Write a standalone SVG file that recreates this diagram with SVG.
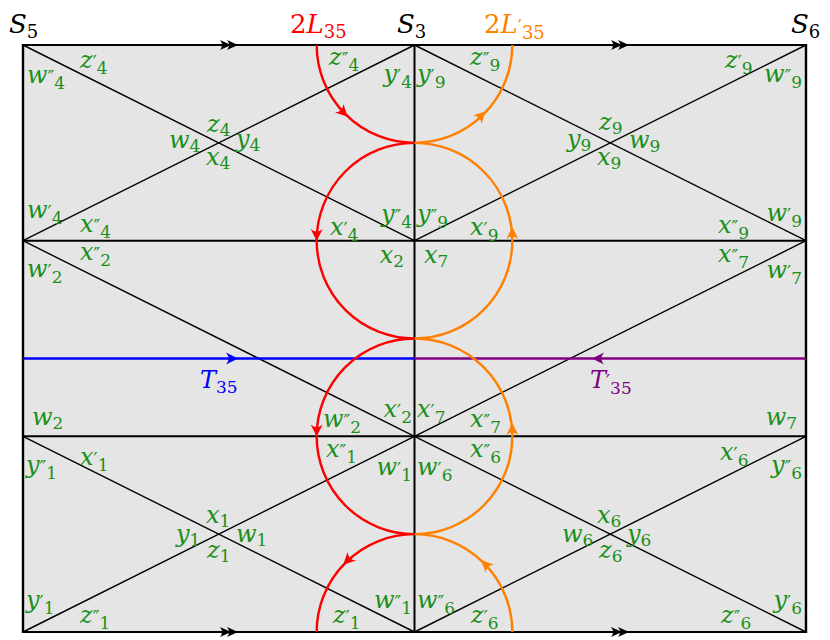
<svg xmlns="http://www.w3.org/2000/svg" xmlns:xlink="http://www.w3.org/1999/xlink" width="830" height="640" viewBox="0 0 830 640" font-family="DejaVu Serif, Liberation Serif, serif">
<style>
text{font-family:"DejaVu Serif","Liberation Serif","Noto Serif",serif;font-style:italic;font-size:24px;fill:#1a8f1a}
.s{font-style:normal;font-size:17px}
.p{font-style:normal;font-size:18px}
.big{font-size:26px;fill:#000}
.sb{font-style:normal;font-size:18px}
.red{fill:#ff0000}.org{fill:#ff8000}.blu{fill:#0000ff}.pur{fill:#800080}
.up{font-style:normal}
.e{text-anchor:end}
.thin{stroke:#000;stroke-width:1.4;fill:none}
.frm{stroke:#000;stroke-width:2;fill:none}
</style>
<defs>
<path id="ah" d="M1,0 L-11,-6 Q-6,0 -11,6 Z"/>
<path id="fh" d="M0,0 L-11,-5 Q-7,0 -11,5 Z"/>
</defs>
<rect x="23" y="45" width="783" height="587" fill="#e5e5e5"/>
<g id="connectors">
<path class="thin" d="M23,45 L414.5,240.7 M23,240.7 L414.5,45 M414.5,45 L806,240.7 M414.5,240.7 L806,45 M23,240.7 L414.5,436.3 M806,240.7 L414.5,436.3 M23,436.3 L414.5,632 M23,632 L414.5,436.3 M414.5,436.3 L806,632 M414.5,632 L806,436.3"/>
<path class="frm" d="M23,240.7 H806 M23,436.3 H806 M414.5,45 V632 M23,45 H806 M23,632 H806"/>
<path stroke="#000" stroke-width="2.4" fill="none" d="M23,44 V633 M806,44 V633"/>
<g fill="#000">
<use xlink:href="#fh" transform="translate(231,45)"/><use xlink:href="#fh" transform="translate(238,45)"/>
<use xlink:href="#fh" transform="translate(622,45)"/><use xlink:href="#fh" transform="translate(629,45)"/>
<use xlink:href="#fh" transform="translate(231,632)"/><use xlink:href="#fh" transform="translate(238,632)"/>
<use xlink:href="#fh" transform="translate(622,632)"/><use xlink:href="#fh" transform="translate(629,632)"/>
</g>
<path stroke="#0000ff" stroke-width="2.6" fill="none" d="M23,358.5 H414.5"/>
<path stroke="#800080" stroke-width="2.6" fill="none" d="M806,358.5 H414.5"/>
<use xlink:href="#ah" fill="#0000ff" transform="translate(237,358.5)"/>
<use xlink:href="#ah" fill="#800080" transform="translate(593,358.5) rotate(180)"/>
<path stroke="#ff0000" stroke-width="2.4" fill="none" d="M316.67,45 A97.83,97.83 0 0 0 414.5,142.85 A97.83,97.83 0 0 0 316.67,240.7 A97.83,97.83 0 0 0 414.5,338.5 A97.83,97.83 0 0 0 316.67,436.3 A97.83,97.83 0 0 0 414.5,534.15 A97.83,97.83 0 0 0 316.67,632"/>
<path stroke="#ff8000" stroke-width="2.4" fill="none" d="M512.33,632 A97.83,97.83 0 0 0 414.5,534.15 A97.83,97.83 0 0 0 512.33,436.3 A97.83,97.83 0 0 0 414.5,338.5 A97.83,97.83 0 0 0 512.33,240.7 A97.83,97.83 0 0 0 414.5,142.85 A97.83,97.83 0 0 0 512.33,45"/>
<g fill="#ff0000">
<use xlink:href="#ah" transform="translate(347,116) rotate(45)"/>
<use xlink:href="#ah" transform="translate(316.67,240) rotate(90)"/>
<use xlink:href="#ah" transform="translate(316.67,435.5) rotate(90)"/>
<use xlink:href="#ah" transform="translate(344,564) rotate(135)"/>
</g>
<g fill="#ff8000">
<use xlink:href="#ah" transform="translate(485,112) rotate(-45)"/>
<use xlink:href="#ah" transform="translate(512.33,228) rotate(-90)"/>
<use xlink:href="#ah" transform="translate(512.33,424) rotate(-90)"/>
<use xlink:href="#ah" transform="translate(482,561) rotate(-135)"/>
</g>
</g>
<g id="titles">
<text class="big" x="9" y="33">S<tspan class="sb" dy="5">5</tspan></text>
<text class="big" x="397" y="33">S<tspan class="sb" dy="5">3</tspan></text>
<text class="big" x="791" y="33">S<tspan class="sb" dy="5">6</tspan></text>
<text class="big red" x="290" y="33"><tspan class="up">2</tspan>L<tspan class="sb" dy="5">35</tspan></text>
<text class="big org" x="484" y="33"><tspan class="up">2</tspan>L<tspan class="p" dy="0">′</tspan><tspan class="sb" dy="6">35</tspan></text>
<text class="blu" x="200" y="388">T<tspan class="s" dy="5">35</tspan></text>
<text class="pur" x="590" y="388">T<tspan class="p" dy="0">′</tspan><tspan class="s" dy="6">35</tspan></text>
</g>
<g id="labels">
<text x="27" y="83">w<tspan class="p" dy="1">″</tspan><tspan class="s" dy="5">4</tspan></text>
<text x="80" y="68">z<tspan class="p" dy="1">′</tspan><tspan class="s" dy="5">4</tspan></text>
<text x="207" y="132">z<tspan class="s" dy="4">4</tspan></text>
<text x="169" y="148">w<tspan class="s" dy="4">4</tspan></text>
<text x="236" y="147">y<tspan class="s" dy="4">4</tspan></text>
<text x="206" y="165">x<tspan class="s" dy="4">4</tspan></text>
<text x="329" y="65">z<tspan class="p" dy="1">″</tspan><tspan class="s" dy="5">4</tspan></text>
<text class="e" x="412" y="82">y<tspan class="p" dy="1">′</tspan><tspan class="s" dy="5">4</tspan></text>
<text x="27" y="218">w<tspan class="p" dy="1">′</tspan><tspan class="s" dy="5">4</tspan></text>
<text x="80" y="232">x<tspan class="p" dy="1">″</tspan><tspan class="s" dy="5">4</tspan></text>
<text x="330" y="235">x<tspan class="p" dy="1">′</tspan><tspan class="s" dy="5">4</tspan></text>
<text class="e" x="412" y="222">y<tspan class="p" dy="1">″</tspan><tspan class="s" dy="5">4</tspan></text>
<text x="417" y="82">y<tspan class="p" dy="1">′</tspan><tspan class="s" dy="5">9</tspan></text>
<text x="470" y="65">z<tspan class="p" dy="1">″</tspan><tspan class="s" dy="5">9</tspan></text>
<text x="725" y="68">z<tspan class="p" dy="1">′</tspan><tspan class="s" dy="5">9</tspan></text>
<text class="e" x="802" y="82">w<tspan class="p" dy="1">″</tspan><tspan class="s" dy="5">9</tspan></text>
<text x="599" y="130">z<tspan class="s" dy="4">9</tspan></text>
<text x="567" y="147">y<tspan class="s" dy="4">9</tspan></text>
<text x="629" y="148">w<tspan class="s" dy="4">9</tspan></text>
<text x="597" y="165">x<tspan class="s" dy="4">9</tspan></text>
<text x="417" y="222">y<tspan class="p" dy="1">″</tspan><tspan class="s" dy="5">9</tspan></text>
<text x="470" y="235">x<tspan class="p" dy="1">′</tspan><tspan class="s" dy="5">9</tspan></text>
<text class="e" x="802" y="221">w<tspan class="p" dy="1">′</tspan><tspan class="s" dy="5">9</tspan></text>
<text x="718" y="233">x<tspan class="p" dy="1">″</tspan><tspan class="s" dy="5">9</tspan></text>
<text x="80" y="260">x<tspan class="p" dy="1">″</tspan><tspan class="s" dy="5">2</tspan></text>
<text x="27" y="277">w<tspan class="p" dy="1">′</tspan><tspan class="s" dy="5">2</tspan></text>
<text class="e" x="404" y="263">x<tspan class="s" dy="4">2</tspan></text>
<text x="424" y="263">x<tspan class="s" dy="4">7</tspan></text>
<text x="718" y="262">x<tspan class="p" dy="1">″</tspan><tspan class="s" dy="5">7</tspan></text>
<text class="e" x="802" y="278">w<tspan class="p" dy="1">′</tspan><tspan class="s" dy="5">7</tspan></text>
<text x="32" y="425">w<tspan class="s" dy="4">2</tspan></text>
<text class="e" x="797" y="425">w<tspan class="s" dy="4">7</tspan></text>
<text class="e" x="412" y="417">x<tspan class="p" dy="1">′</tspan><tspan class="s" dy="5">2</tspan></text>
<text x="417" y="417">x<tspan class="p" dy="1">′</tspan><tspan class="s" dy="5">7</tspan></text>
<text x="323" y="427">w<tspan class="p" dy="1">″</tspan><tspan class="s" dy="5">2</tspan></text>
<text x="470" y="427">x<tspan class="p" dy="1">″</tspan><tspan class="s" dy="5">7</tspan></text>
<text x="326" y="457">x<tspan class="p" dy="1">″</tspan><tspan class="s" dy="5">1</tspan></text>
<text x="470" y="457">x<tspan class="p" dy="1">″</tspan><tspan class="s" dy="5">6</tspan></text>
<text class="e" x="412" y="475">w<tspan class="p" dy="1">′</tspan><tspan class="s" dy="5">1</tspan></text>
<text x="417" y="475">w<tspan class="p" dy="1">′</tspan><tspan class="s" dy="5">6</tspan></text>
<text x="80" y="465">x<tspan class="p" dy="1">′</tspan><tspan class="s" dy="5">1</tspan></text>
<text x="26" y="473">y<tspan class="p" dy="1">″</tspan><tspan class="s" dy="5">1</tspan></text>
<text x="720" y="460">x<tspan class="p" dy="1">′</tspan><tspan class="s" dy="5">6</tspan></text>
<text class="e" x="802" y="473">y<tspan class="p" dy="1">″</tspan><tspan class="s" dy="5">6</tspan></text>
<text x="206" y="523">x<tspan class="s" dy="4">1</tspan></text>
<text x="176" y="542">y<tspan class="s" dy="4">1</tspan></text>
<text x="236" y="542">w<tspan class="s" dy="4">1</tspan></text>
<text x="207" y="558">z<tspan class="s" dy="4">1</tspan></text>
<text x="26" y="608">y<tspan class="p" dy="1">′</tspan><tspan class="s" dy="5">1</tspan></text>
<text x="80" y="623">z<tspan class="p" dy="1">″</tspan><tspan class="s" dy="5">1</tspan></text>
<text class="e" x="412" y="608">w<tspan class="p" dy="1">″</tspan><tspan class="s" dy="5">1</tspan></text>
<text x="417" y="608">w<tspan class="p" dy="1">″</tspan><tspan class="s" dy="5">6</tspan></text>
<text x="333" y="623">z<tspan class="p" dy="1">′</tspan><tspan class="s" dy="5">1</tspan></text>
<text x="471" y="623">z<tspan class="p" dy="1">′</tspan><tspan class="s" dy="5">6</tspan></text>
<text x="597" y="523">x<tspan class="s" dy="4">6</tspan></text>
<text x="562" y="542">w<tspan class="s" dy="4">6</tspan></text>
<text x="627" y="542">y<tspan class="s" dy="4">6</tspan></text>
<text x="599" y="558">z<tspan class="s" dy="4">6</tspan></text>
<text class="e" x="802" y="608">y<tspan class="p" dy="1">′</tspan><tspan class="s" dy="5">6</tspan></text>
<text x="721" y="623">z<tspan class="p" dy="1">″</tspan><tspan class="s" dy="5">6</tspan></text>
</g>
</svg>
